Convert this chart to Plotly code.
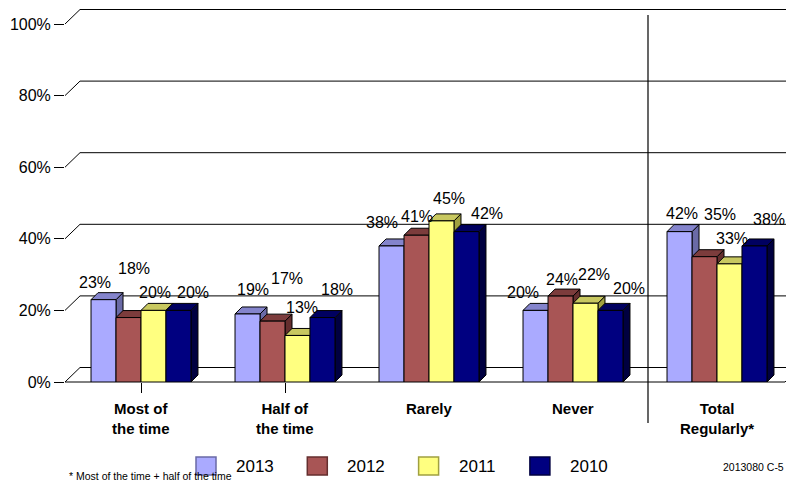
import plotly.graph_objects as go

# ---------------- data ----------------
categories = ["Most of\nthe time", "Half of\nthe time", "Rarely", "Never", "Total\nRegularly*"]
series = ["2013", "2012", "2011", "2010"]
v2013 = [23, 19, 38, 20, 42]
v2012 = [18, 17, 41, 24, 35]
v2011 = [20, 13, 45, 22, 33]
v2010 = [20, 18, 42, 20, 38]
values = [v2013, v2012, v2011, v2010]
y_ticks = [0, 20, 40, 60, 80, 100]
footnote = "* Most of the time + half of the time"
code_text = "2013080 C-5"

# ---------------- style ----------------
front = ["#AAAAFF", "#A85555", "#FFFF80", "#000080"]
topc = ["#8484CC", "#7C3C3C", "#C8C860", "#000060"]
sidec = ["#6A6AA6", "#642E2E", "#A0A040", "#000040"]
# label pixel shifts (dx, dy above bar top) per series / category
label_shift = [
    [(-9, 17), (5, 24), (-10, 23), (-13, 18), (2, 18)],
    [(5, 49), (14, 43), (0, 19), (1, 17), (15, 42)],
    [(2, 18), (5, 28), (8, 22), (9, 29), (3, 25)],
    [(15, 18), (15, 28), (21, 18), (19, 22), (15, 26)],
]
FONT = "Liberation Sans, Arial, sans-serif"
OFF = 8                      # page body margin
W, H = 794 - 2 * OFF, 492 - 2 * OFF
L, R, T, B = 57, 0, 16, 102
PW, PH = W - L - R, H - T - B
# category 0 centred at page x 141, 144 px per category
XR = [(65 - 141) / 144, (OFF + W - 141) / 144]
YR = [0, 100]
xu = (XR[1] - XR[0]) / PW      # data units per px (x)
yu = (YR[1] - YR[0]) / PH      # data units per px (y)


def px(x):
    """page x -> paper"""
    return (x - OFF - L) / PW


def py(y):
    """page y -> paper"""
    return (H - B - (y - OFF)) / PH


n = len(series)
bargap = 0.306
bw = (1 - bargap) / n

fig = go.Figure()
shapes = []
annotations = []
line_k = dict(color="#000", width=1)

# back wall gridlines with diagonal joins
wall_dx, wall_dy = 15, 14.5
for v in y_ticks:
    yp = (v - YR[0]) / (YR[1] - YR[0])
    yb = yp + wall_dy / PH
    shapes.append(dict(type="line", xref="paper", yref="paper", x0=px(65), x1=px(65 + wall_dx),
                       y0=yp, y1=yb, line=line_k, layer="below"))
    shapes.append(dict(type="line", xref="paper", yref="paper", x0=px(65 + wall_dx), x1=px(800),
                       y0=yb, y1=yb, line=line_k, layer="below"))
# floor front edge
shapes.append(dict(type="line", xref="paper", yref="paper", x0=px(65), x1=px(785), y0=0, y1=0,
                   line=line_k, layer="below"))
shapes.append(dict(type="line", xref="paper", yref="paper", x0=px(785), x1=px(785 + wall_dx),
                   y0=0, y1=wall_dy / PH, line=line_k, layer="below"))
# separator line before "Total Regularly"
shapes.append(dict(type="line", xref="paper", yref="paper", x0=px(648), x1=px(648),
                   y0=py(423), y1=py(15), line=dict(color="#000", width=1.2), layer="above"))

# bars
bdx, bdy = 7 * xu, 7 * yu
for i, s in enumerate(series):
    xs = [c + (i - (n - 1) / 2) * bw for c in range(len(categories))]
    fig.add_trace(go.Bar(x=xs, y=values[i], width=bw, name=s,
                         marker=dict(color=front[i], line=dict(color="#000", width=1)),
                         showlegend=False, hoverinfo="skip"))
    for j, v in enumerate(values[i]):
        dx, dy = label_shift[i][j]
        annotations.append(dict(x=xs[j], y=v, xref="x", yref="y", text=f"{v}%", showarrow=False,
                                xshift=dx, yshift=dy, yanchor="middle",
                                font=dict(family=FONT, size=16, color="#000")))

# 3D faces (side then top, left to right so neighbours overlap correctly)
for j in range(len(categories)):
    for i in range(n):
        xc = j + (i - (n - 1) / 2) * bw
        xl, xr = xc - bw / 2, xc + bw / 2
        v = values[i][j]
        shapes.append(dict(type="path", xref="x", yref="y", layer="below",
                           path=f"M{xr},0 L{xr + bdx},{bdy} L{xr + bdx},{v + bdy} L{xr},{v} Z",
                           fillcolor=sidec[i], line=line_k))
        shapes.append(dict(type="path", xref="x", yref="y", layer="below",
                           path=f"M{xl},{v} L{xr},{v} L{xr + bdx},{v + bdy} L{xl + bdx},{v + bdy} Z",
                           fillcolor=topc[i], line=line_k))

# category labels
for j, c in enumerate(categories):
    annotations.append(dict(x=j, y=py(398), xref="x", yref="paper", text=c.replace("\n", "<br>"),
                            showarrow=False, yanchor="top",
                            font=dict(family=FONT, size=15, color="#000", weight="bold")))

# legend (manual)
for i, s in enumerate(series):
    x0 = 196 + i * 111.3
    shapes.append(dict(type="rect", xref="paper", yref="paper", x0=px(x0), x1=px(x0 + 20),
                       y0=py(475), y1=py(457), fillcolor=front[i],
                       line=dict(color=sidec[i], width=1.5)))
    annotations.append(dict(x=px(x0 + 38), y=py(466), xref="paper", yref="paper", text=s,
                            showarrow=False, xanchor="left", yanchor="middle",
                            font=dict(family=FONT, size=17, color="#000")))

annotations.append(dict(x=px(67), y=py(484), xref="paper", yref="paper", text=footnote,
                        showarrow=False, xanchor="left", yanchor="bottom",
                        font=dict(family=FONT, size=10.5, color="#000")))
annotations.append(dict(x=px(786), y=py(467), xref="paper", yref="paper", text=code_text,
                        showarrow=False, xanchor="right", yanchor="middle",
                        font=dict(family=FONT, size=10.5, color="#000")))

fig.update_layout(
    width=W, height=H, margin=dict(l=L, r=R, t=T, b=B),
    paper_bgcolor="white", plot_bgcolor="rgba(0,0,0,0)",
    barmode="overlay", showlegend=False,
    shapes=shapes, annotations=annotations,
    font=dict(family=FONT, color="#000"),
    xaxis=dict(range=XR, showgrid=False, zeroline=False, showline=False,
               tickvals=[0, 1], ticktext=["", ""], ticks="outside", ticklen=10,
               tickcolor="#000", tickwidth=1),
    yaxis=dict(range=YR, showgrid=False, zeroline=False, showline=False,
               tickvals=y_ticks, ticktext=[f"{v}%" for v in y_ticks], ticks="outside",
               ticklen=10, tickcolor="#000", tickwidth=1,
               tickfont=dict(family=FONT, size=16, color="#000")),
)

fig.write_html("out.html")
